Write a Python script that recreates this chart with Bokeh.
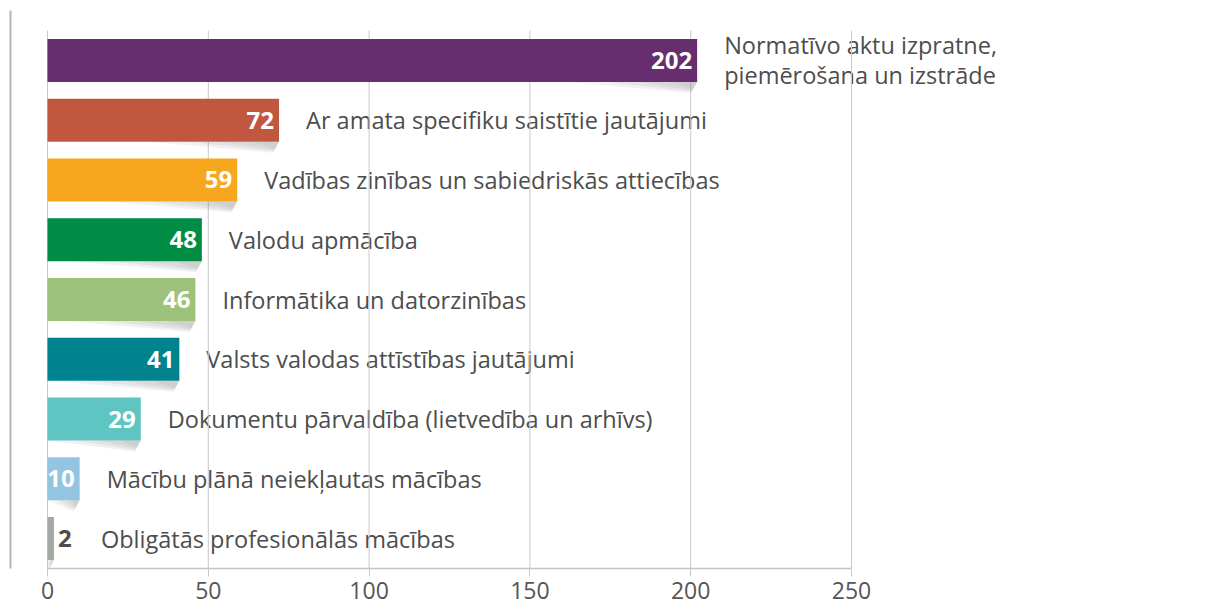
import numpy as np
from bokeh.plotting import figure
from bokeh.models import ColumnDataSource, Range1d, FixedTicker
from bokeh.core.properties import value
from bokeh.embed import file_html
from bokeh.resources import INLINE

# ---- data ----
categories = [
    "Normatīvo aktu izpratne,\npiemērošana un izstrāde",
    "Ar amata specifiku saistītie jautājumi",
    "Vadības zinības un sabiedriskās attiecības",
    "Valodu apmācība",
    "Informātika un datorzinības",
    "Valsts valodas attīstības jautājumi",
    "Dokumentu pārvaldība (lietvedība un arhīvs)",
    "Mācību plānā neiekļautas mācības",
    "Obligātās profesionālās mācības",
]
counts = [202, 72, 59, 48, 46, 41, 29, 10, 2]
colors = ["#662D6F", "#C1573F", "#F7A71E", "#008C45", "#9DC27C",
          "#00838E", "#5EC5C3", "#93C4E1", "#A4A9A6"]
ticks = [0, 50, 100, 150, 200, 250]

# ---- layout (pixels) ----
W, H = 1222, 609
FRAME_LEFT, ZERO_X = 10, 47         # figure px
PX_UNIT = 804 / 250.0               # px per data unit
FRAME_TOP, FRAME_BOTTOM = 10, 568
FRAME_H = FRAME_BOTTOM - FRAME_TOP
SLOT = 538 / 9.0
n = len(counts)

FONT = "Open Sans"
TXT = "#4D4D4D"

p = figure(width=W, height=H, output_backend="svg", toolbar_location=None,
           x_range=Range1d(-(ZERO_X - FRAME_LEFT) / PX_UNIT, (W - ZERO_X) / PX_UNIT),
           y_range=Range1d(0, FRAME_H / SLOT),
           min_border_left=FRAME_LEFT, min_border_right=0,
           min_border_top=FRAME_TOP, min_border_bottom=H - FRAME_BOTTOM)
p.outline_line_color = None
p.xgrid.visible = False
p.ygrid.visible = False
p.background_fill_color = "white"
p.border_fill_color = "white"

y = [n - i - 0.5 for i in range(n)]
inside = [c >= 10 for c in counts]
src = ColumnDataSource(dict(
    y=y, count=counts, color=colors, cat=categories,
    vcolor=["white" if f else TXT for f in inside],
    vofs=[-5 if f else 4 for f in inside],
    valign=["right" if f else "left" for f in inside],
    cofs=[27 if f else 47 for f in inside],
    vtext=[str(c) for c in counts],
))

# category labels (drawn under the grid lines, as in the reference)
p.text(x="count", y="y", text="cat", source=src, x_offset="cofs", y_offset=0,
       text_font=value(FONT), text_font_size="23.5px", text_color=TXT,
       text_align="left", text_baseline="middle", text_line_height=0.94)

# grid lines
p.segment(x0=ticks, y0=[0] * len(ticks), x1=ticks, y1=[n] * len(ticks),
          line_color="#C9C9C9", line_width=1)

# bars
bh = 43 / SLOT
p.hbar(y="y", left=0, right="count", height=bh, fill_color="color",
       line_color=None, source=src)

# curled-page shadows under the bar ends
d = 11 / SLOT
s = 6 / PX_UNIT
for frac in [1.0, 0.7, 0.45, 0.22]:
    xs, ys = [], []
    for yc, c in zip(y, counts):
        L = min(c, 40) * frac
        yb = yc - bh / 2
        xs.append([c - L, c, c - s * frac ** 0.3])
        ys.append([yb, yb, yb - d * (0.55 + 0.45 * frac)])
    p.patches(xs=xs, ys=ys, fill_color="#8C8C8C", fill_alpha=0.12, line_color=None)

# value labels
p.text(x="count", y="y", text="vtext", source=src, x_offset="vofs",
       text_font=value(FONT), text_font_style="bold", text_font_size="24px",
       text_color="vcolor", text_align="valign", text_baseline="middle")

# axes
xa = p.xaxis[0]
xa.ticker = FixedTicker(ticks=ticks)
xa.bounds = (0, 250)
xa.axis_line_color = "#C4C4C4"
xa.axis_line_width = 1.5
xa.major_tick_line_color = "#C8C8C8"
xa.major_tick_out = 8
xa.major_tick_in = 0
xa.minor_tick_line_color = None
xa.major_label_text_font = FONT
xa.major_label_text_font_size = "23px"
xa.major_label_text_color = "#555555"
xa.major_label_standoff = 5

ya = p.yaxis[0]
ya.ticker = FixedTicker(ticks=[])
ya.axis_line_color = "#B5B5B5"
ya.axis_line_width = 2
ya.major_tick_out = 0
ya.major_tick_in = 0
ya.minor_tick_line_color = None
ya.major_label_text_font_size = "0px"
ya.major_label_standoff = 0

open("out.html", "w").write(file_html(p, INLINE))
